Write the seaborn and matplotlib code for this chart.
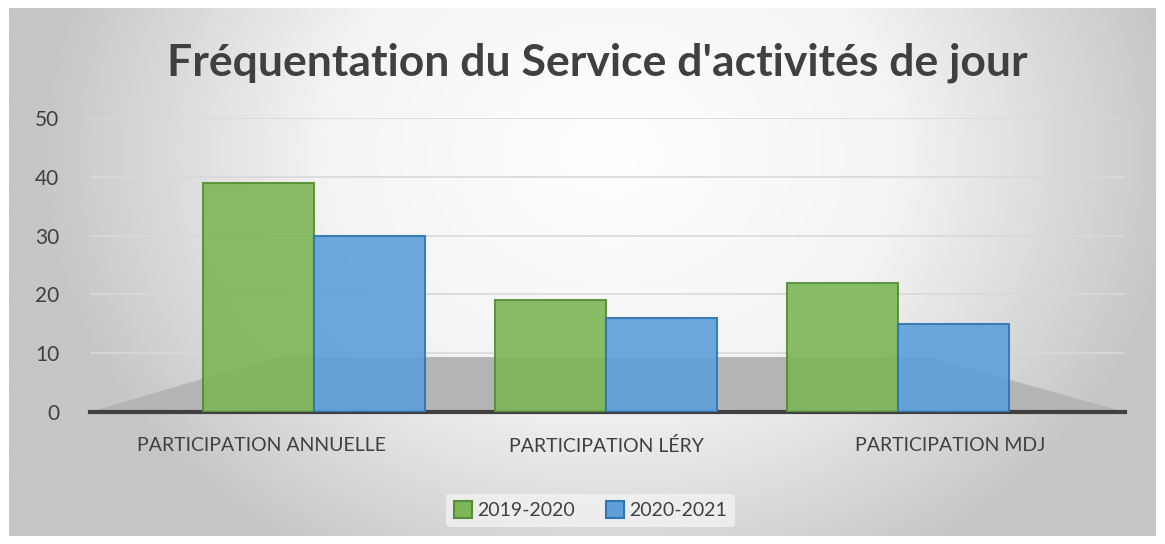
import numpy as np
import pandas as pd
import seaborn as sns
import matplotlib.pyplot as plt
from matplotlib.patches import Polygon, Rectangle
from matplotlib.colors import LinearSegmentedColormap
from matplotlib.transforms import ScaledTranslation

categories = ['PARTICIPATION ANNUELLE', 'PARTICIPATION LÉRY', 'PARTICIPATION MDJ']
series = ['2019-2020', '2020-2021']
values_2019 = [39, 19, 22]
values_2020 = [30, 16, 15]
yticks = [0, 10, 20, 30, 40, 50]

df = pd.DataFrame({
    'cat': categories * 2,
    'periode': [series[0]] * 3 + [series[1]] * 3,
    'val': values_2019 + values_2020,
})

sns.set_style('white')
plt.rcParams['font.family'] = ['Lato', 'DejaVu Sans']

fig = plt.figure(figsize=(11.65, 5.44), dpi=100)

# radial grey background, white near the top centre
bg = fig.add_axes([0.008, 0.015, 0.984, 0.97])
yy, xx = np.mgrid[1:-1:300j, -1:1:600j]
r = np.sqrt(((xx - 0.05) * 1.0) ** 2 + ((yy - 0.45) * 0.55) ** 2)
bgcmap = LinearSegmentedColormap.from_list('bg', ['#FFFFFF', '#F4F4F4', '#C6C6C6'])
bg.imshow(np.clip(r, 0, 1), cmap=bgcmap, vmin=0, vmax=1, aspect='auto', extent=[0, 1, 0, 1])
bg.set_axis_off()

ax = fig.add_axes([90 / 1165, 1 - 412 / 544, (1125 - 90) / 1165, (412 - 118) / 544])
ax.patch.set_alpha(0)

green = '#7DB657'
blue = '#5E9FDA'
sns.barplot(data=df, x='cat', y='val', hue='periode', hue_order=series,
            palette=[green, blue], width=0.76, saturation=1, ax=ax, legend=False)

edges = {green: '#548E35', blue: '#2E75B6'}
for p, c in zip(ax.patches, [green] * 3 + [blue] * 3):
    p.set_alpha(0.9)
    p.set_edgecolor(edges[c])
    p.set_linewidth(1.5)
    p.set_zorder(3)

ax.set_xlim(-0.767, 2.777)
ax.set_ylim(0, 50)
ax.set_yticks(yticks)
ax.tick_params(axis='y', length=0, labelsize=15, labelcolor='#404040', pad=22)
ax.tick_params(axis='x', length=0, labelsize=14, labelcolor='#404040', pad=18)
ax.set_xlabel('')
ax.set_ylabel('')
ax.yaxis.grid(True, color='#D9D9D9', lw=1.2)
ax.set_axisbelow(True)
for s in ['left', 'right', 'top']:
    ax.spines[s].set_visible(False)
ax.spines['bottom'].set_color('#404040')
ax.spines['bottom'].set_linewidth(3)

# spread outer category labels as in the perspective view
for lab, dx in zip(ax.get_xticklabels(), [-52, 0, 52]):
    lab.set_transform(lab.get_transform() + ScaledTranslation(dx / 100, 0, fig.dpi_scale_trans))

# grey floor
floor = Polygon([(0.0, 0.0), (0.18, 0.187), (0.81, 0.187), (1.0, 0.0)],
                closed=True, transform=ax.transAxes, color='#B5B5B5',
                zorder=1.5, lw=0)
ax.add_patch(floor)

fig.text(0.513, 0.885, "Fréquentation du Service d'activités de jour",
         ha='center', va='center', fontsize=32, fontweight='bold', color='#404040')

handles = [Rectangle((0, 0), 1, 1, fc=green, ec=edges[green], lw=1.5),
           Rectangle((0, 0), 1, 1, fc=blue, ec=edges[blue], lw=1.5)]
leg = fig.legend(handles, series, loc='center', bbox_to_anchor=(0.507, 0.062),
                 ncol=2, frameon=True, fontsize=14, handlelength=0.9,
                 handleheight=0.9, handletextpad=0.3, columnspacing=1.6,
                 labelcolor='#404040')
leg.get_frame().set_facecolor('#F2F2F2')
leg.get_frame().set_edgecolor('none')
leg.get_frame().set_alpha(0.8)

fig.savefig('out.png', dpi=100)
